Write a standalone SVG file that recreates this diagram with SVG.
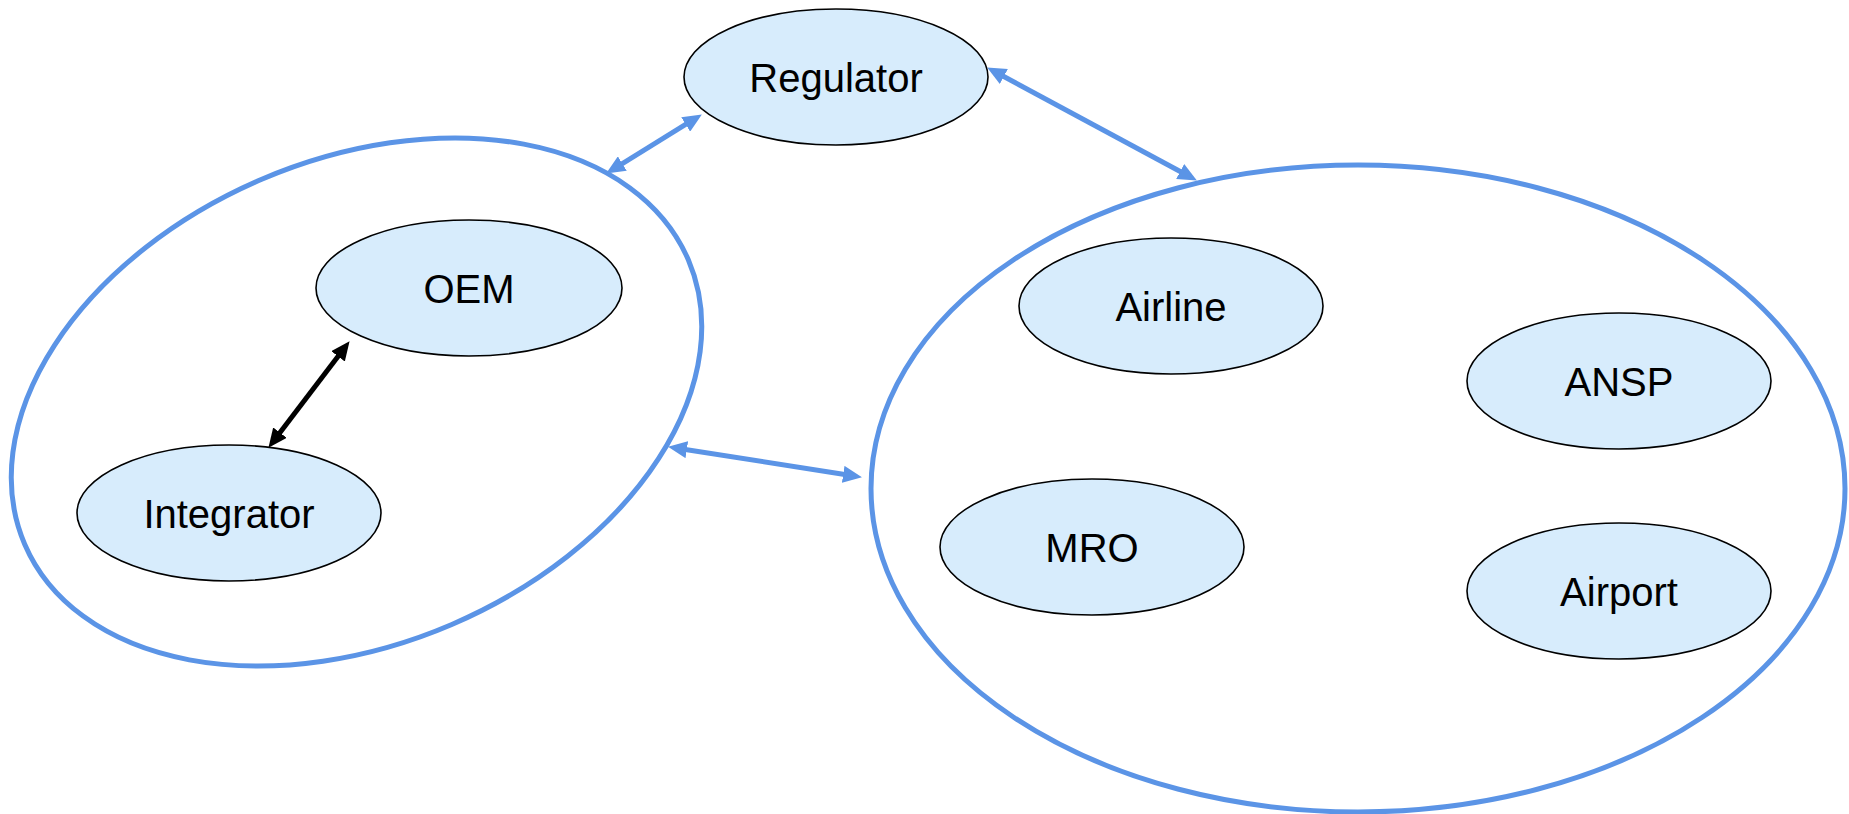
<svg xmlns="http://www.w3.org/2000/svg" width="1849" height="814" viewBox="0 0 1849 814">
  <style>
    .group { fill: none; stroke: #5b94e6; stroke-width: 5; }
    .node ellipse { fill: #d7ecfc; stroke: #000000; stroke-width: 1.6; }
    .node text { font-family: "Liberation Sans", Arial, sans-serif; font-size: 40px; fill: #000000; text-anchor: middle; }
    .link-blue { stroke: #5b94e6; stroke-width: 5; fill: none; marker-start: url(#arrow-blue); marker-end: url(#arrow-blue); }
    .link-black { stroke: #000000; stroke-width: 5; fill: none; marker-start: url(#arrow-black); marker-end: url(#arrow-black); }
  </style>
  <defs>
    <marker id="arrow-blue" viewBox="0 0 19 17" refX="8" refY="8.5" markerWidth="19" markerHeight="17" markerUnits="userSpaceOnUse" orient="auto-start-reverse">
      <path d="M0,0 L19,8.5 L0,17 z" fill="#5b94e6"/>
    </marker>
    <marker id="arrow-black" viewBox="0 0 19 17" refX="8" refY="8.5" markerWidth="19" markerHeight="17" markerUnits="userSpaceOnUse" orient="auto-start-reverse">
      <path d="M0,0 L19,8.5 L0,17 z" fill="#000000"/>
    </marker>
  </defs>

  <rect width="1849" height="814" fill="#ffffff"/>

  <!-- manufacturing side container -->
  <g id="manufacturing-group">
    <ellipse class="group" cx="356.5" cy="402" rx="361" ry="242" transform="rotate(-23.2 356.5 402)"/>
  </g>

  <!-- operations side container -->
  <g id="operations-group">
    <ellipse class="group" cx="1358" cy="488.5" rx="487" ry="323.5"/>
  </g>

  <!-- connectors -->
  <g id="connectors">
    <line class="link-blue" x1="692.5" y1="120.2" x2="615.5" y2="167.8"/>
    <line class="link-blue" x1="996.8" y1="72.7" x2="1187.2" y2="175.3"/>
    <line class="link-blue" x1="678.9" y1="448.5" x2="851.1" y2="475.5"/>
    <line class="link-black" x1="342.9" y1="350" x2="275.1" y2="439"/>
  </g>

  <g id="regulator" class="node">
    <ellipse cx="836" cy="77" rx="152" ry="68"/>
    <text x="836" y="92">Regulator</text>
  </g>

  <g id="oem" class="node">
    <ellipse cx="469" cy="288" rx="153" ry="68"/>
    <text x="469" y="303">OEM</text>
  </g>

  <g id="integrator" class="node">
    <ellipse cx="229" cy="513" rx="152" ry="68"/>
    <text x="229" y="528">Integrator</text>
  </g>

  <g id="airline" class="node">
    <ellipse cx="1171" cy="306" rx="152" ry="68"/>
    <text x="1171" y="321">Airline</text>
  </g>

  <g id="ansp" class="node">
    <ellipse cx="1619" cy="381" rx="152" ry="68"/>
    <text x="1619" y="396">ANSP</text>
  </g>

  <g id="mro" class="node">
    <ellipse cx="1092" cy="547" rx="152" ry="68"/>
    <text x="1092" y="562">MRO</text>
  </g>

  <g id="airport" class="node">
    <ellipse cx="1619" cy="591" rx="152" ry="68"/>
    <text x="1619" y="606">Airport</text>
  </g>
</svg>
